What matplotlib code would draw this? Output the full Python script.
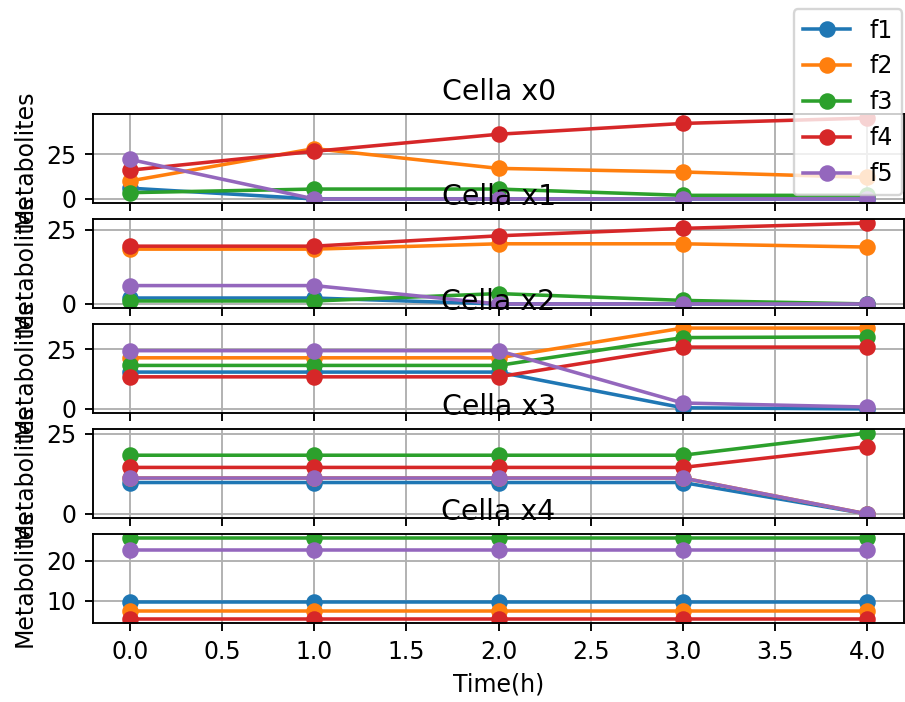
import matplotlib.pyplot as plt

time = [0, 1, 2, 3, 4]
names = ["f1", "f2", "f3", "f4", "f5"]
cells = ["Cella x0", "Cella x1", "Cella x2", "Cella x3", "Cella x4"]

# one list per metabolite, one block per cell
x0_f1 = [6, 0, 0, 0, 0]
x0_f2 = [10, 28, 17, 15, 12]
x0_f3 = [3.5, 5.5, 5.5, 2, 2]
x0_f4 = [16, 26.5, 36, 42, 45]
x0_f5 = [22, 0, 0, 0, 0]

x1_f1 = [2, 2, 0, 0, 0]
x1_f2 = [18.5, 18.5, 20.3, 20.3, 19.2]
x1_f3 = [1, 1, 3.5, 1.2, 0]
x1_f4 = [19.5, 19.5, 23, 25.5, 27.3]
x1_f5 = [6.2, 6.2, 0, 0, 0]

x2_f1 = [15.5, 15.5, 15.5, 0.5, 0]
x2_f2 = [21.5, 21.5, 21.5, 34, 34]
x2_f3 = [18.3, 18.3, 18.3, 30, 30.3]
x2_f4 = [13.5, 13.5, 13.5, 26, 26]
x2_f5 = [24.5, 24.5, 24.5, 2.5, 0.8]

x3_f1 = [9.8, 9.8, 9.8, 9.8, 0]
x3_f2 = [11.2, 11.2, 11.2, 11.2, 0]
x3_f3 = [18.3, 18.3, 18.3, 18.3, 25.2]
x3_f4 = [14.5, 14.5, 14.5, 14.5, 21]
x3_f5 = [11.2, 11.2, 11.2, 11.2, 0]

x4_f1 = [9.7, 9.7, 9.7, 9.7, 9.7]
x4_f2 = [7.6, 7.6, 7.6, 7.6, 7.6]
x4_f3 = [25.7, 25.7, 25.7, 25.7, 25.7]
x4_f4 = [5.5, 5.5, 5.5, 5.5, 5.5]
x4_f5 = [22.7, 22.7, 22.7, 22.7, 22.7]

data = [
    [x0_f1, x0_f2, x0_f3, x0_f4, x0_f5],
    [x1_f1, x1_f2, x1_f3, x1_f4, x1_f5],
    [x2_f1, x2_f2, x2_f3, x2_f4, x2_f5],
    [x3_f1, x3_f2, x3_f3, x3_f4, x3_f5],
    [x4_f1, x4_f2, x4_f3, x4_f4, x4_f5],
]

dpi = 170
fig, axs = plt.subplots(5, 1, sharex=True, figsize=(905 / dpi, 702 / dpi), dpi=dpi)
plt.subplots_adjust(left=0.1028, right=0.999, top=0.8376, bottom=0.1125, hspace=0.18)

for ax, cell, series in zip(axs, cells, data):
    for name, vals in zip(names, series):
        ax.plot(time, vals, marker="o", label=name)
    ax.set_title(cell)
    ax.set_ylabel("Metabolites")
    ax.grid(True)

axs[-1].set_xlabel("Time(h)")
handles, labels = axs[0].get_legend_handles_labels()
fig.legend(handles, labels, loc="upper right", bbox_to_anchor=(0.997, 0.987), borderaxespad=0)

fig.savefig("out.png", dpi=dpi)
